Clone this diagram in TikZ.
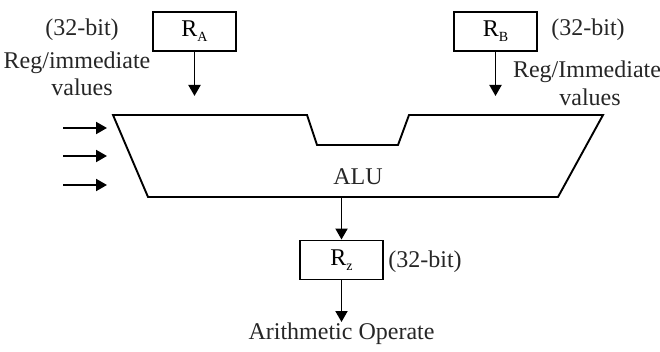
\documentclass[tikz,border=0pt]{standalone}
\usepackage{fontspec}
\setmainfont{Liberation Serif}
\usetikzlibrary{arrows.meta}
\begin{document}
\begin{tikzpicture}[x=1pt,y=-1pt,
  font=\fontsize{24}{27}\selectfont,
  line width=1.9pt,
  reg/.style={draw,minimum width=83pt,minimum height=39pt,inner sep=0pt},
  lbl/.style={align=center,inner sep=0pt,text=black!85},
  arr/.style={-{Triangle[length=11pt,width=12pt]}}]
\useasboundingbox (0,0) rectangle (660,352);
\newcommand{\regsub}[2]{#1\raisebox{-0.45ex}{\fontsize{14}{14}\selectfont #2}}
% registers
\node[reg] (ra) at (194.5,31.5) {\regsub{R}{A}};
\node[reg] (rb) at (495.5,31.5) {\regsub{R}{B}};
\node[reg] (rz) at (341.5,260) {\regsub{R}{z}};
% ALU shape
\coordinate (a1) at (113,115);
\coordinate (a2) at (307,115);
\coordinate (a3) at (317,145);
\coordinate (a4) at (398,145);
\coordinate (a5) at (409,115);
\coordinate (a6) at (603,115);
\coordinate (a7) at (558,197);
\coordinate (a8) at (148,197);
\draw[line join=miter] (a1) -- (a2) -- (a3) -- (a4) -- (a5) -- (a6) -- (a7) -- (a8) -- cycle;
\node[lbl] (alu) at (358,177) {ALU};
\coordinate (aluout) at (341.5,197);
% inputs
\coordinate (ea) at (194.5,96);
\coordinate (eb) at (495.5,96);
\draw[arr] (ra.south) -- (ea);
\draw[arr] (rb.south) -- (eb);
\draw[arr] (aluout) -- (rz.north);
\node[lbl,anchor=north] (out) at (341.5,322) {Arithmetic Operate};
\draw[arr] (rz.south) -- (out.north);
% left arrows
\foreach \y/\n in {128/1,156/2,185/3}{
  \coordinate (l\n s) at (63,\y);
  \coordinate (l\n e) at (107,\y);
  \draw[arr] (l\n s) -- (l\n e);
}
% labels
\node[lbl] (la1) at (82,30) {(32-bit)};
\node[lbl] (la2) at (77,63) {Reg/immediate};
\node[lbl] (la3) at (82,87) {values};
\node[lbl] (lb1) at (588,30) {(32-bit)};
\node[lbl] (lb2) at (587,72) {Reg/Immediate};
\node[lbl] (lb3) at (590,97) {values};
\node[lbl] (lz) at (425,262) {(32-bit)};
\end{tikzpicture}
\end{document}
